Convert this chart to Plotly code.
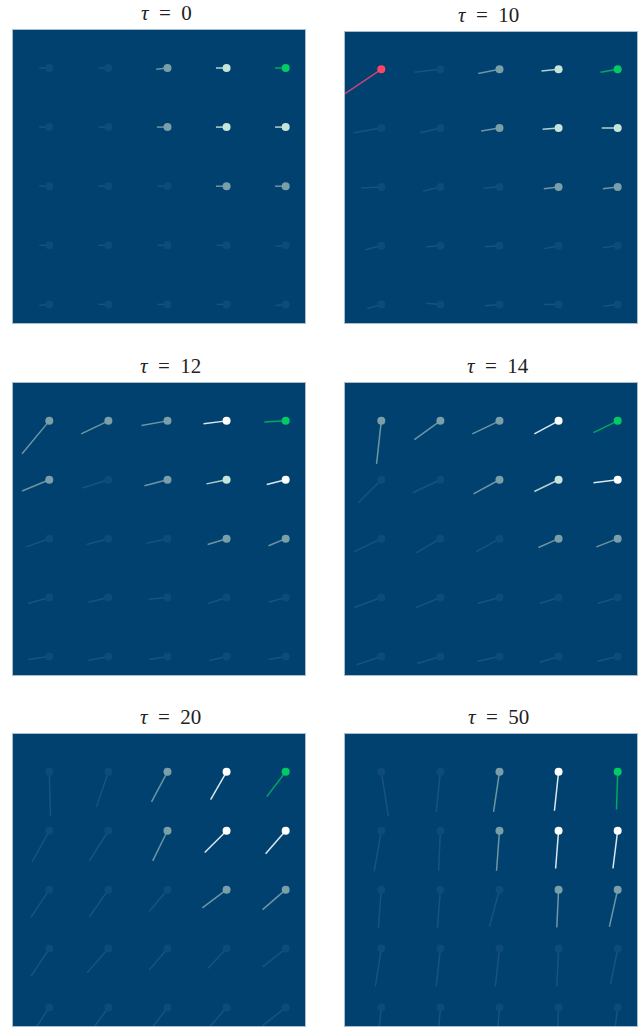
import plotly.graph_objects as go

# ---------------- data ----------------
taus = [0, 10, 12, 14, 20, 50]

# grid coordinates (5 x 5), rows listed top -> bottom
cols = [0, 1, 2, 3, 4]
rows = [4, 3, 2, 1, 0]

# shade class per point: f=faint, m=medium, l=light, w=white, g=goal(green), r=red
shade_t0 = [["f", "f", "m", "l", "g"], ["f", "f", "m", "l", "l"], ["f", "f", "f", "m", "m"],
            ["f", "f", "f", "f", "f"], ["f", "f", "f", "f", "f"]]
shade_t10 = [["r", "f", "m", "l", "g"], ["f", "f", "m", "l", "l"], ["f", "f", "f", "m", "m"],
             ["f", "f", "f", "f", "f"], ["f", "f", "f", "f", "f"]]
shade_t12 = [["m", "m", "m", "w", "g"], ["m", "f", "m", "l", "w"], ["f", "f", "f", "m", "m"],
             ["f", "f", "f", "f", "f"], ["f", "f", "f", "f", "f"]]
shade_t14 = [["m", "m", "m", "w", "g"], ["f", "f", "m", "l", "w"], ["f", "f", "f", "m", "m"],
             ["f", "f", "f", "f", "f"], ["f", "f", "f", "f", "f"]]
shade_t20 = [["f", "f", "m", "w", "g"], ["f", "f", "m", "w", "w"], ["f", "f", "f", "m", "m"],
             ["f", "f", "f", "f", "f"], ["f", "f", "f", "f", "f"]]
shade_t50 = [["f", "f", "m", "w", "g"], ["f", "f", "m", "w", "w"], ["f", "f", "f", "m", "m"],
             ["f", "f", "f", "f", "f"], ["f", "f", "f", "f", "f"]]

# tail vectors (grid units): dx to the right, dy downward
dx_t0 = [[-0.17, -0.17, -0.19, -0.18, -0.18], [-0.17, -0.17, -0.18, -0.18, -0.18],
         [-0.17, -0.17, -0.17, -0.18, -0.18], [-0.17, -0.17, -0.17, -0.17, -0.17],
         [-0.17, -0.17, -0.17, -0.17, -0.17]]
dy_t0 = [[0.0, 0.0, 0.02, 0.0, 0.0], [0.0, 0.0, 0.0, 0.0, 0.0], [0.0, 0.0, 0.0, 0.0, 0.0],
         [0.0, 0.0, 0.0, 0.0, 0.02], [0.02, 0.0, 0.0, 0.0, 0.02]]

dx_t10 = [[-1.36, -0.44, -0.36, -0.29, -0.29], [-0.47, -0.34, -0.31, -0.27, -0.27],
          [-0.34, -0.29, -0.27, -0.25, -0.25], [-0.27, -0.24, -0.25, -0.24, -0.25],
          [-0.24, -0.24, -0.25, -0.25, -0.24]]
dy_t10 = [[0.92, 0.05, 0.07, 0.03, 0.05], [0.08, 0.08, 0.05, 0.02, 0.0],
          [0.02, 0.07, 0.02, 0.03, 0.03], [0.07, 0.02, 0.02, 0.05, 0.03],
          [0.07, -0.02, 0.02, 0.0, 0.03]]

dx_t12 = [[-0.46, -0.46, -0.44, -0.39, -0.36], [-0.46, -0.44, -0.39, -0.34, -0.32],
          [-0.39, -0.37, -0.36, -0.32, -0.29], [-0.36, -0.34, -0.32, -0.31, -0.29],
          [-0.36, -0.34, -0.31, -0.29, -0.29]]
dy_t12 = [[0.56, 0.22, 0.08, 0.05, 0.02], [0.19, 0.14, 0.10, 0.07, 0.08],
          [0.14, 0.10, 0.08, 0.10, 0.12], [0.10, 0.08, 0.03, 0.10, 0.08],
          [0.05, 0.07, 0.05, 0.07, 0.05]]

dx_t14 = [[-0.08, -0.44, -0.46, -0.41, -0.41], [-0.39, -0.47, -0.44, -0.41, -0.41],
          [-0.46, -0.41, -0.39, -0.34, -0.36], [-0.46, -0.41, -0.37, -0.32, -0.34],
          [-0.42, -0.39, -0.37, -0.32, -0.34]]
dy_t14 = [[0.73, 0.32, 0.22, 0.22, 0.20], [0.39, 0.22, 0.24, 0.20, 0.05],
          [0.22, 0.24, 0.22, 0.15, 0.14], [0.17, 0.17, 0.10, 0.10, 0.10],
          [0.14, 0.12, 0.08, 0.10, 0.08]]

dx_t20 = [[0.02, -0.20, -0.27, -0.27, -0.32], [-0.29, -0.32, -0.25, -0.37, -0.34],
          [-0.31, -0.32, -0.31, -0.41, -0.39], [-0.31, -0.36, -0.31, -0.32, -0.39],
          [-0.31, -0.32, -0.31, -0.32, -0.39]]
dy_t20 = [[0.75, 0.59, 0.51, 0.47, 0.42], [0.53, 0.51, 0.51, 0.37, 0.39],
          [0.47, 0.46, 0.37, 0.31, 0.34], [0.47, 0.41, 0.37, 0.34, 0.31],
          [0.47, 0.44, 0.41, 0.37, 0.31]]

dx_t50 = [[0.12, -0.07, -0.10, -0.07, -0.02], [-0.12, -0.03, -0.05, -0.05, -0.08],
          [-0.05, -0.05, -0.17, -0.03, -0.14], [-0.10, -0.07, -0.07, -0.03, -0.12],
          [-0.07, -0.05, -0.05, -0.03, -0.08]]
dy_t50 = [[0.75, 0.68, 0.68, 0.66, 0.64], [0.69, 0.68, 0.68, 0.64, 0.64],
          [0.66, 0.66, 0.63, 0.64, 0.63], [0.64, 0.64, 0.64, 0.64, 0.61],
          [0.64, 0.64, 0.64, 0.64, 0.63]]

shades = [shade_t0, shade_t10, shade_t12, shade_t14, shade_t20, shade_t50]
dxs = [dx_t0, dx_t10, dx_t12, dx_t14, dx_t20, dx_t50]
dys = [dy_t0, dy_t10, dy_t12, dy_t14, dy_t20, dy_t50]

# ---------------- style ----------------
W, H = 644, 1027
BG = "#00416f"
dot_color = {"f": "#0e4b78", "m": "#7b9fa8", "l": "#c6e4da", "w": "#ffffff",
             "g": "#00cc66", "r": "#ff4466"}
line_color = {"f": "#175381", "m": "#6d95a3", "l": "#b3d0cc", "w": "#dde7ee",
              "g": "#00a862", "r": "#c8457a"}
order = ["f", "m", "l", "w", "g", "r"]

# panel pixel boxes in page coords (left, top, right, bottom)
boxes = [(13, 30, 305, 323), (345, 31.5, 637, 323),
         (13, 383, 305, 675), (345, 383, 637, 675),
         (13, 734, 305, 1026), (345, 734, 637, 1026)]
title_x = [166, 488, 171, 498, 171, 498]

fig = go.Figure()
layout = {}
annotations = []
for k in range(6):
    ax = "" if k == 0 else str(k + 1)
    xref, yref = "x" + ax, "y" + ax
    l, t, r, b = boxes[k]
    for s in order:
        lx, ly, px, py = [], [], [], []
        for i, yv in enumerate(rows):
            for j, xv in enumerate(cols):
                if shades[k][i][j] != s:
                    continue
                lx += [xv, xv + dxs[k][i][j], None]
                ly += [yv, yv - dys[k][i][j], None]
                px.append(xv)
                py.append(yv)
        if not px:
            continue
        fig.add_trace(go.Scatter(x=lx, y=ly, mode="lines", xaxis=xref, yaxis=yref,
                                 line=dict(color=line_color[s], width=1.5),
                                 hoverinfo="skip", showlegend=False))
        fig.add_trace(go.Scatter(x=px, y=py, mode="markers", xaxis=xref, yaxis=yref,
                                 marker=dict(color=dot_color[s], size=8, line=dict(width=0)),
                                 cliponaxis=True, showlegend=False))
    axis_common = dict(showgrid=False, zeroline=False, showticklabels=False, ticks="",
                       showline=True, mirror=True, linecolor="#a9bdcc", linewidth=1,
                       fixedrange=True)
    layout["xaxis" + ax] = dict(domain=[l / W, r / W], range=[-0.614, 4.327],
                                anchor=yref, **axis_common)
    layout["yaxis" + ax] = dict(domain=[max(0, 1 - b / H), 1 - t / H], range=[-0.315, 4.643],
                                anchor=xref, **axis_common)
    annotations.append(dict(text="<i>τ</i>\u2002=\u2002" + str(taus[k]),
                            x=title_x[k] / W, y=1 - (t - 17) / H,
                            xref="paper", yref="paper",
                            xanchor="center", yanchor="middle", showarrow=False,
                            font=dict(family="Liberation Serif, DejaVu Serif, serif",
                                      size=21, color="#222222")))

fig.update_layout(width=W, height=H, margin=dict(l=0, r=0, t=0, b=0),
                  paper_bgcolor="white", plot_bgcolor=BG, showlegend=False,
                  annotations=annotations, **layout)
fig.write_html("out.html", config={"displayModeBar": False},
               post_script="document.body.style.margin='0';document.body.style.overflow='hidden';")
